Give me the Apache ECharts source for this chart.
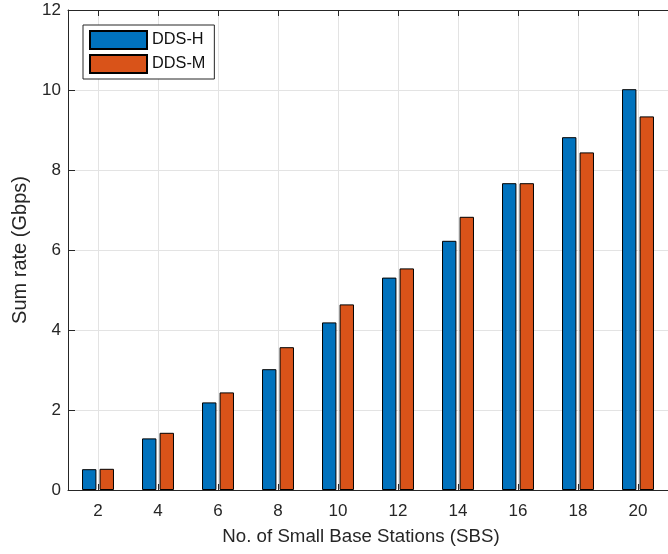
<!DOCTYPE html>
<html>
<head>
<meta charset="utf-8">
<script src="https://cdn.jsdelivr.net/npm/echarts@6/dist/echarts.min.js"></script>
<style>
  html, body { margin: 0; padding: 0; background: #fff; }
  #chart { width: 668px; height: 554px; }
</style>
</head>
<body>
<div id="chart"></div>
<script>
// Number of small base stations
const sbsCounts = [2, 4, 6, 8, 10, 12, 14, 16, 18, 20];
// Sum rate (Gbps) per scheme
const ddsH = [0.52, 1.29, 2.19, 3.02, 4.19, 5.31, 6.23, 7.67, 8.82, 10.02];
const ddsM = [0.53, 1.43, 2.44, 3.57, 4.64, 5.54, 6.83, 7.67, 8.44, 9.34];
const yTicks = [0, 2, 4, 6, 8, 10, 12];

const axisColor = '#262626';
const gridColor = '#e3e3e3';
const font = '"Liberation Sans", Arial, Helvetica, sans-serif';
const tickFont = 17;
const nameFont = 18.7;

const chart = echarts.init(document.getElementById('chart'), null, { renderer: 'canvas' });

const xCommon = {
  type: 'value',
  min: sbsCounts[0] - 1,
  max: sbsCounts[sbsCounts.length - 1] + 1,
  splitNumber: 10,
  axisLine: { show: true, lineStyle: { color: axisColor, width: 1 } }
};

chart.setOption({
  animation: false,
  textStyle: { fontFamily: font, color: axisColor },
  grid: { left: 68, top: 10, right: -10, bottom: 64, containLabel: false },
  legend: {
    left: 83,
    top: 25,
    orient: 'vertical',
    itemWidth: 57,
    itemHeight: 18,
    itemGap: 4,
    padding: [5, 9, 5, 6],
    borderColor: axisColor,
    borderWidth: 1,
    backgroundColor: '#fff',
    icon: 'rect',
    textStyle: { fontFamily: font, fontSize: 16.3, color: '#111' },
    data: ['DDS-H', 'DDS-M']
  },
  xAxis: [
    Object.assign({}, xCommon, {
      position: 'bottom',
      name: 'No. of Small Base Stations (SBS)',
      nameLocation: 'middle',
      nameGap: 37,
      nameTextStyle: { fontSize: nameFont, color: axisColor, fontFamily: font, padding: [0, 14, 0, 0] },
      axisTick: { show: true, inside: true, length: 6, lineStyle: { color: axisColor } },
      axisLabel: {
        fontSize: tickFont, color: axisColor, margin: 13, fontFamily: font,
        showMinLabel: false, showMaxLabel: false,
        formatter: v => (sbsCounts.includes(v) ? String(v) : '')
      },
      splitLine: { show: true, lineStyle: { color: gridColor, width: 1 } }
    }),
    Object.assign({}, xCommon, {
      position: 'top',
      axisTick: { show: true, inside: true, length: 6, lineStyle: { color: axisColor } },
      axisLabel: { show: false },
      splitLine: { show: false }
    })
  ],
  yAxis: {
    type: 'value',
    min: yTicks[0],
    max: yTicks[yTicks.length - 1],
    interval: 2,
    name: 'Sum rate (Gbps)',
    nameLocation: 'middle',
    nameGap: 38,
    nameTextStyle: { fontSize: 20, color: axisColor, fontFamily: font },
    axisLine: { show: true, lineStyle: { color: axisColor, width: 1 } },
    axisTick: { show: true, inside: true, length: 7, lineStyle: { color: axisColor } },
    axisLabel: { fontSize: tickFont, color: axisColor, margin: 7, fontFamily: font },
    splitLine: { show: true, lineStyle: { color: gridColor, width: 1 } }
  },
  series: [
    {
      name: 'DDS-H',
      type: 'bar',
      xAxisIndex: 0,
      barWidth: 14.4,
      barGap: '22%',
      itemStyle: { color: '#0072BD', borderColor: '#000', borderWidth: 1 },
      data: sbsCounts.map((x, i) => [x, ddsH[i]])
    },
    {
      name: 'DDS-M',
      type: 'bar',
      xAxisIndex: 0,
      barWidth: 14.4,
      barGap: '22%',
      itemStyle: { color: '#D95319', borderColor: '#000', borderWidth: 1 },
      data: sbsCounts.map((x, i) => [x, ddsM[i]])
    }
  ]
});
</script>
</body>
</html>
